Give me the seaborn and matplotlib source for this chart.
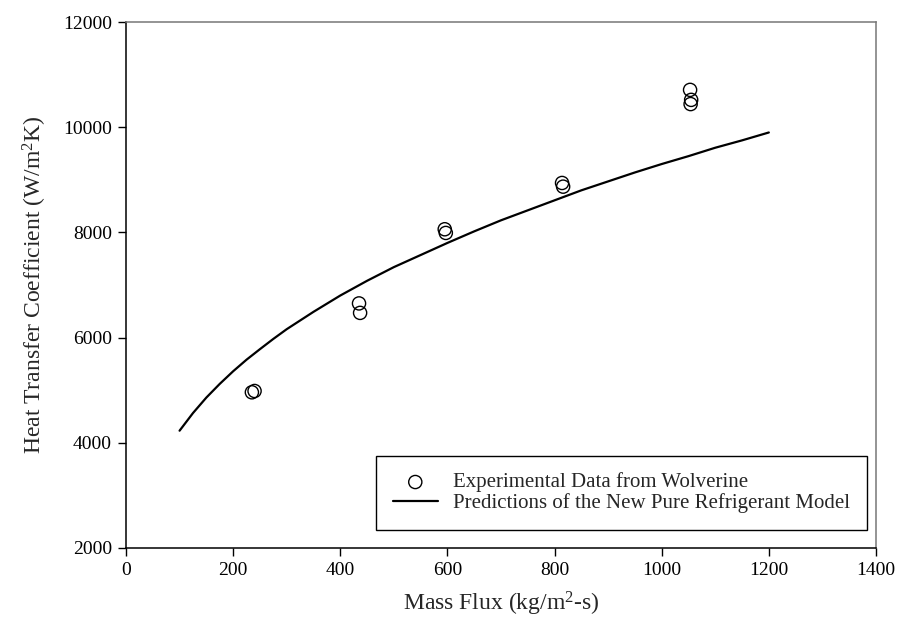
import matplotlib
matplotlib.use("Agg")
import matplotlib.pyplot as plt
import seaborn as sns
import pandas as pd

# Experimental data (Wolverine)
exp_flux = [235, 240, 435, 437, 595, 597, 814, 816, 1053, 1055, 1054]
exp_htc = [4960, 4985, 6650, 6470, 8060, 7990, 8940, 8870, 10710, 10520, 10440]

# Model predictions
model_flux = [100, 125, 150, 175, 200, 225, 250, 275, 300, 350, 400, 450, 500, 550,
              600, 650, 700, 750, 800, 850, 900, 950, 1000, 1050, 1100, 1150, 1200]
model_htc = [4230, 4565, 4860, 5120, 5360, 5580, 5780, 5975, 6160, 6490, 6800, 7080,
             7340, 7570, 7800, 8020, 8230, 8420, 8610, 8800, 8970, 9140, 9300, 9450,
             9610, 9750, 9900]

sns.set_theme(style="ticks")
plt.rcParams["font.family"] = ["Liberation Serif", "DejaVu Serif"]
plt.rcParams["mathtext.fontset"] = "custom"
plt.rcParams["mathtext.rm"] = "Liberation Serif"
plt.rcParams["mathtext.it"] = "Liberation Serif:italic"

fig = plt.figure(figsize=(9, 6.33), dpi=100)
ax = fig.add_axes([0.14, 0.1343, 0.8333, 0.8309])

df_exp = pd.DataFrame({"flux": exp_flux, "htc": exp_htc})
df_mod = pd.DataFrame({"flux": model_flux, "htc": model_htc})

sns.lineplot(data=df_mod, x="flux", y="htc", ax=ax, color="black", linewidth=1.6,
             label="Predictions of the New Pure Refrigerant Model", zorder=2)
sns.scatterplot(data=df_exp, x="flux", y="htc", ax=ax, marker="o", s=90,
                facecolor="none", edgecolor="black", linewidth=1.0,
                label="Experimental Data from Wolverine", zorder=3)

ax.set_xlim(0, 1400)
ax.set_ylim(2000, 12000)
ax.set_xticks(range(0, 1401, 200))
ax.set_yticks(range(2000, 12001, 2000))
ax.tick_params(axis="both", direction="out", length=6, width=1, labelsize=14,
               colors="black", pad=4)
for s in ["left", "bottom"]:
    ax.spines[s].set_color("black")
    ax.spines[s].set_linewidth(1.1)
for s in ["top", "right"]:
    ax.spines[s].set_visible(True)
    ax.spines[s].set_color("#777777")
    ax.spines[s].set_linewidth(1.1)

ax.set_xlabel("Mass Flux (kg/m$^2$-s)", fontsize=17, labelpad=8)
ax.set_ylabel("Heat Transfer Coefficient (W/m$^2$K)", fontsize=17, labelpad=10)

handles, labels = ax.get_legend_handles_labels()
order = [labels.index("Experimental Data from Wolverine"),
         labels.index("Predictions of the New Pure Refrigerant Model")]
leg = ax.legend([handles[i] for i in order], [labels[i] for i in order],
                loc="lower right", bbox_to_anchor=(0.988, 0.034), fontsize=15,
                frameon=True, fancybox=False, edgecolor="black", framealpha=1,
                borderpad=0.8, handlelength=2.15, handletextpad=0.75,
                labelspacing=0.05, borderaxespad=0)
leg.get_frame().set_linewidth(1.0)

fig.savefig("out.png", dpi=100)
